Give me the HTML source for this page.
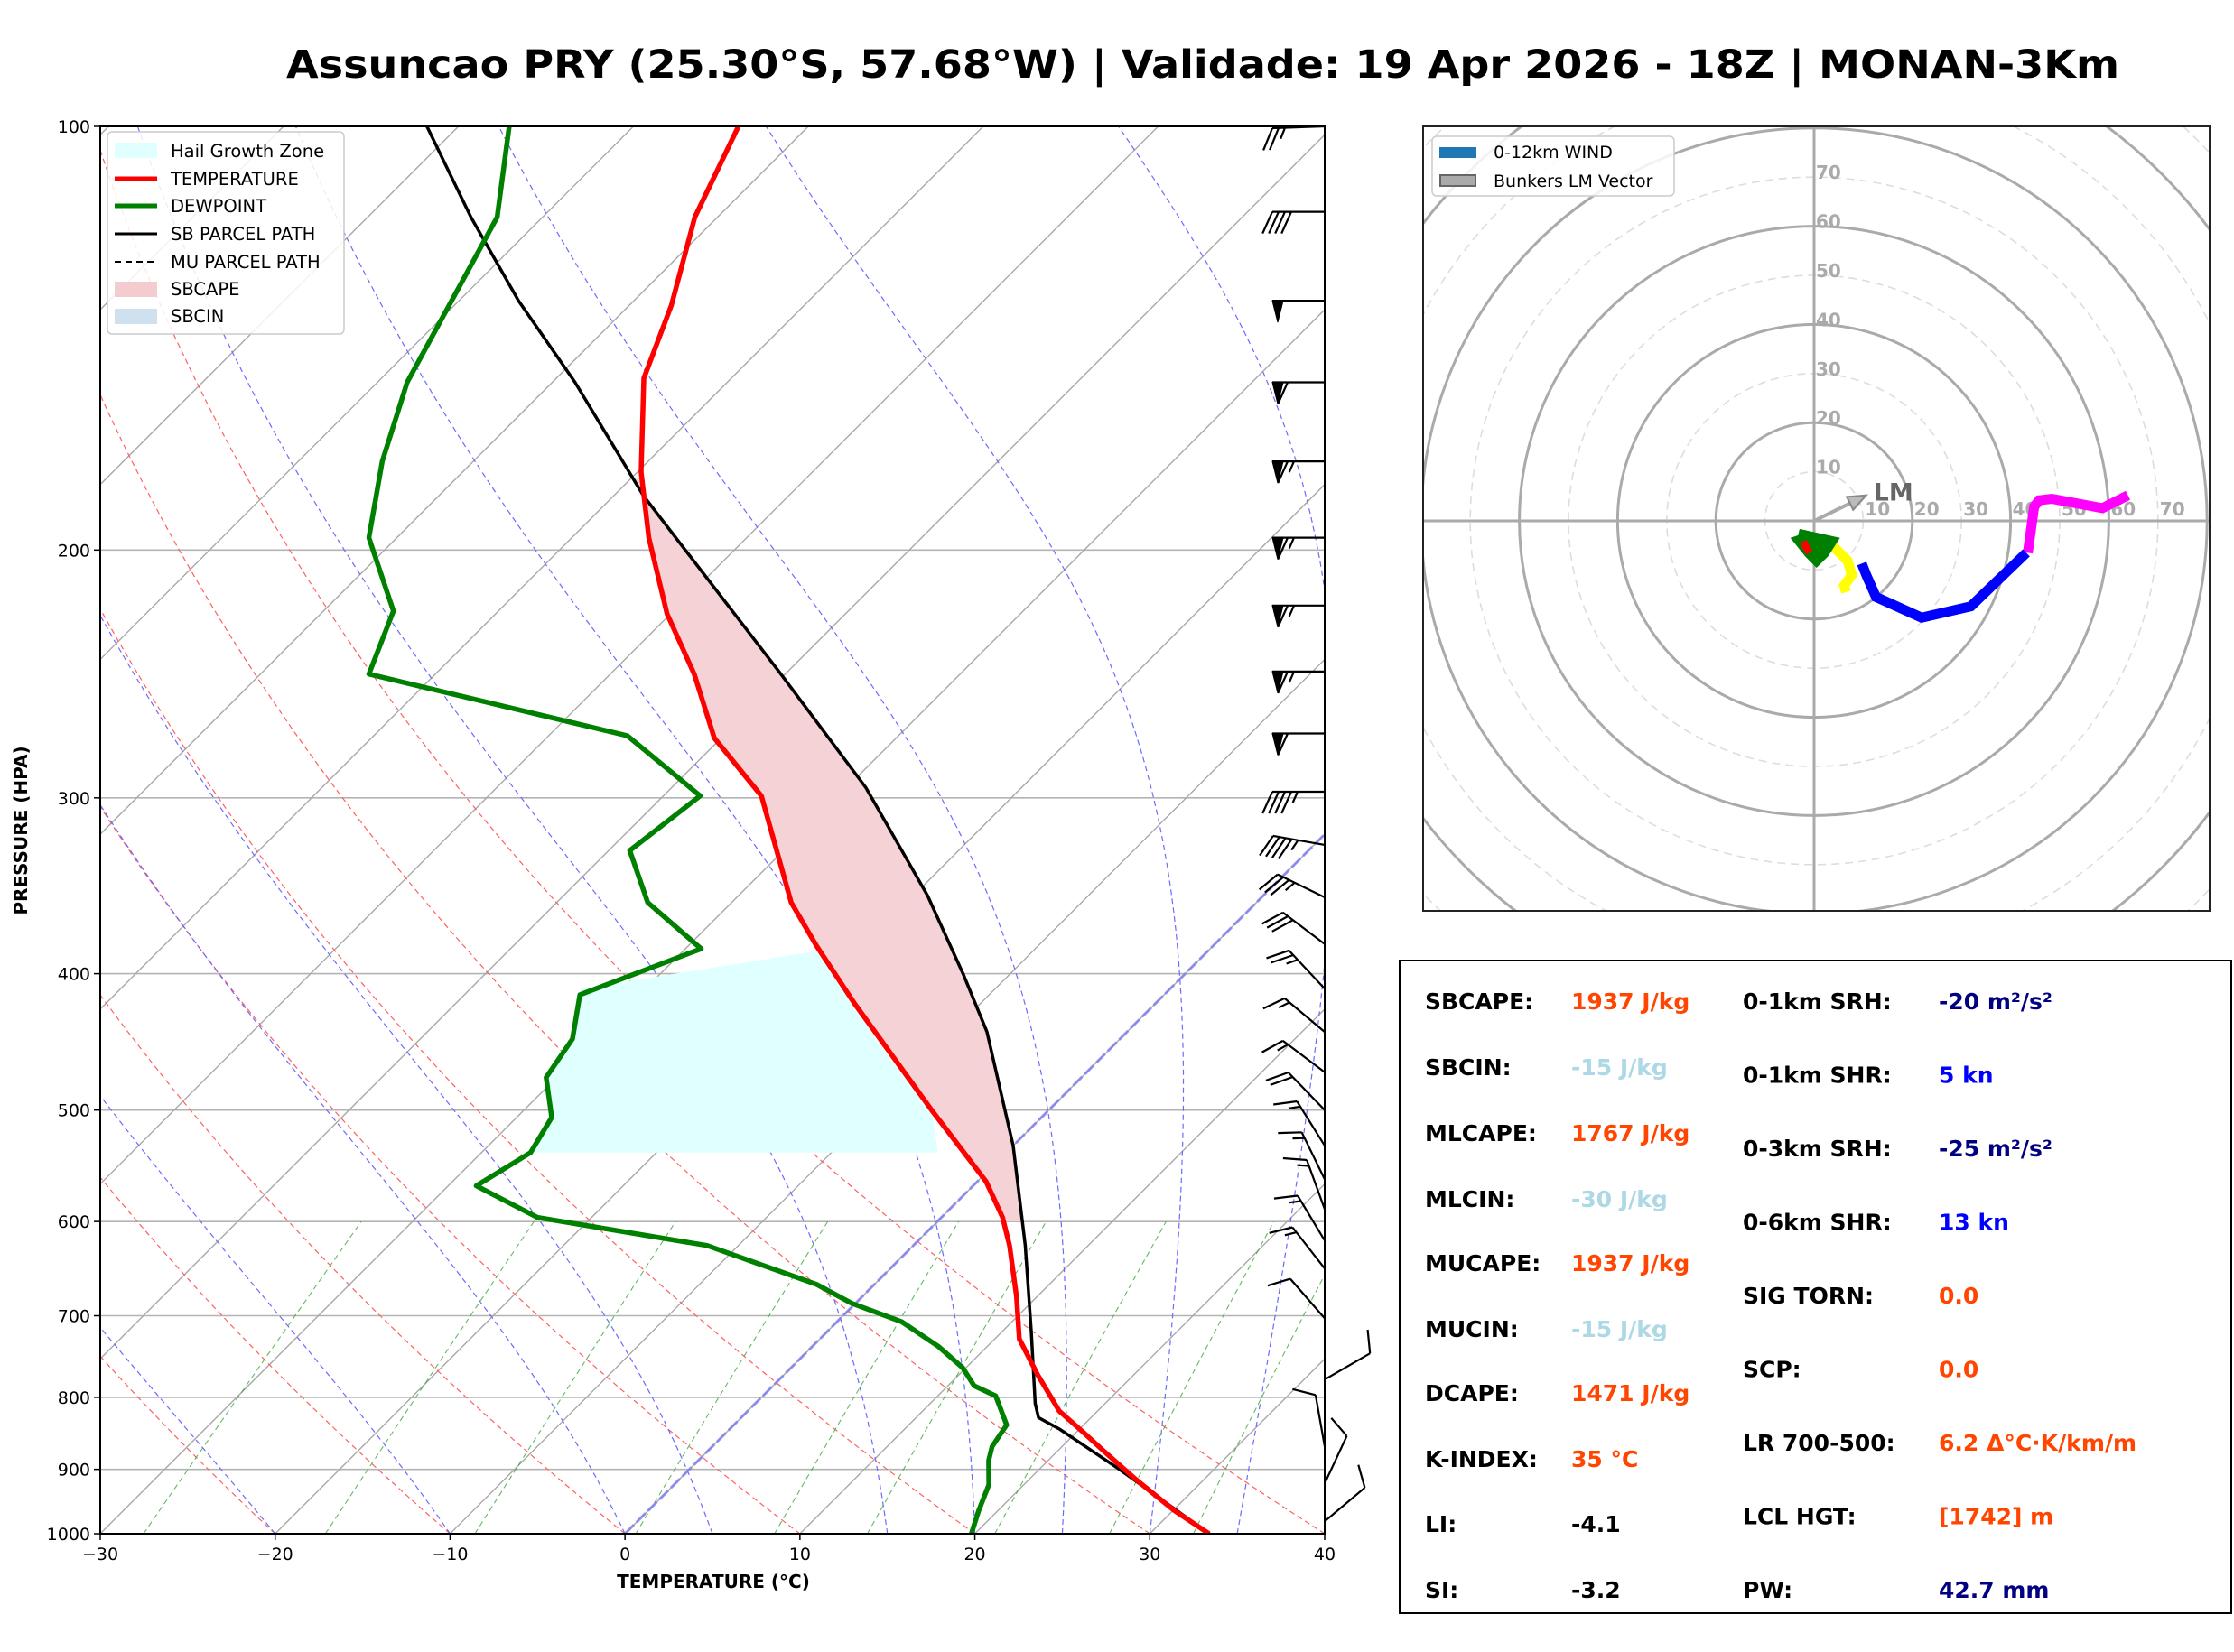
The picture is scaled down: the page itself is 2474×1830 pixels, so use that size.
<!DOCTYPE html>
<html><head><meta charset="utf-8">
<style>
html,body{margin:0;padding:0;background:#fff;}
svg{display:block;font-family:"DejaVu Sans","Liberation Sans",sans-serif;}
</style></head>
<body>
<svg id="fig" width="2474" height="1830" viewBox="0 0 2474 1830" xmlns="http://www.w3.org/2000/svg">
<defs>
<clipPath id="skewClip"><rect x="111" y="140" width="1356" height="1559"/></clipPath>
<clipPath id="hodoClip"><rect x="1576" y="140" width="871" height="869"/></clipPath>
</defs>
<rect width="2474" height="1830" fill="#fff"/>
<text x="1332" y="86" text-anchor="middle" font-size="43" font-weight="bold" textLength="2030" lengthAdjust="spacingAndGlyphs">Assuncao PRY (25.30°S, 57.68°W) | Validade: 19 Apr 2026 - 18Z | MONAN-3Km</text>
<g id="skew">
  <g id="skewBg" clip-path="url(#skewClip)"></g>
  <g id="skewData" clip-path="url(#skewClip)"></g>
  <rect x="111" y="140" width="1356" height="1559" fill="none" stroke="#000" stroke-width="2"/>
  <g id="skewAxes"></g>
  <g id="barbs"></g>
  <text x="790" y="1759" text-anchor="middle" font-size="20" font-weight="bold">TEMPERATURE (°C)</text>
  <text transform="translate(30,920) rotate(-90)" text-anchor="middle" font-size="20" font-weight="bold">PRESSURE (HPA)</text>
  <g>
    <rect x="119" y="146" width="262" height="224" rx="5" fill="#fff" fill-opacity="0.85" stroke="#ccc" stroke-width="1.5"/>
    <rect x="127" y="158" width="47" height="17" fill="#e0ffff"/>
    <text x="189" y="174" font-size="19.5">Hail Growth Zone</text>
    <line x1="127" y1="198" x2="174" y2="198" stroke="#f00" stroke-width="5"/>
    <text x="189" y="205" font-size="19.5">TEMPERATURE</text>
    <line x1="127" y1="228" x2="174" y2="228" stroke="#008000" stroke-width="5"/>
    <text x="189" y="235" font-size="19.5">DEWPOINT</text>
    <line x1="127" y1="259" x2="174" y2="259" stroke="#000" stroke-width="3"/>
    <text x="189" y="266" font-size="19.5">SB PARCEL PATH</text>
    <line x1="127" y1="290" x2="174" y2="290" stroke="#000" stroke-width="2" stroke-dasharray="7,5"/>
    <text x="189" y="297" font-size="19.5">MU PARCEL PATH</text>
    <rect x="127" y="312" width="47" height="17" fill="#f4cccf"/>
    <text x="189" y="327" font-size="19.5">SBCAPE</text>
    <rect x="127" y="342" width="47" height="17" fill="#cfe0ee"/>
    <text x="189" y="357" font-size="19.5">SBCIN</text>
  </g>
</g>
<g id="hodo">
  <g id="hodoBg" clip-path="url(#hodoClip)"></g>
  <g id="hodoData" clip-path="url(#hodoClip)"></g>
  <rect x="1576" y="140" width="871" height="869" fill="none" stroke="#222" stroke-width="2"/>
  <g>
    <rect x="1586" y="151" width="268" height="66" rx="5" fill="#fff" fill-opacity="0.85" stroke="#ccc" stroke-width="1.5"/>
    <rect x="1594" y="163" width="41" height="12" fill="#1f77b4"/>
    <text x="1654" y="175" font-size="19">0-12km WIND</text>
    <rect x="1595" y="194" width="39" height="12" fill="#aaa" stroke="#666" stroke-width="2"/>
    <text x="1654" y="207" font-size="19">Bunkers LM Vector</text>
  </g>
</g>
<g id="stats">
  <rect x="1550" y="1064" width="921" height="723" fill="#fff" stroke="#000" stroke-width="2"/>
</g>
</svg>
<script>
// ---------------- DATA ----------------
const tempP = [1000,963,915,873,847,818,771,727,678,624,596,562,500,420,382,356,299,272,245,222,196,176,151,134,116,100];
const tempT = [33.4,30.1,26.1,22.6,20.4,17.8,14.5,11.4,8.8,5.5,3.5,0.5,-6.7,-17.2,-22.7,-26.6,-34.4,-40.4,-45.2,-50.2,-55.6,-59.8,-65.0,-67.6,-71.3,-74.0];
const dewP = [1000,963,923,887,867,837,818,798,785,762,736,707,686,665,624,596,566,536,506,474,445,414,384,356,327,299,271,245,221,196,173,152,116,100];
const dewT = [19.8,18.9,18.0,16.6,16.0,15.6,14.5,13.3,11.5,9.8,7.2,3.7,-0.2,-3.3,-11.8,-23.1,-28.4,-27.2,-28.0,-30.6,-31.3,-33.4,-29.1,-34.8,-38.8,-37.9,-45.5,-63.8,-66.0,-71.6,-75.2,-78.3,-82.6,-87.1];
const parcelP = [1000,898,843,827,808,719,624,530,440,400,352,295,244,183,152,133,116,100];
const parcelT = [33.4,24.4,18.9,17.0,16.0,11.7,6.4,0.0,-8.0,-12.7,-19.2,-28.9,-40.5,-58.3,-68.7,-76.6,-84.1,-91.8];
const hgzP = [536,536,500,460,420,385,410,445,474,506,536];
const hgzT = [-27.4,-3.9,-6.7,-12.0,-17.2,-22.1,-33.7,-31.3,-30.6,-28.0,-27.2];
const capeTop = 178, capeBottom = 600;
const pressureTicks = [100,200,300,400,500,600,700,800,900,1000];
const tempTicks = [-30,-20,-10,0,10,20,30,40];
const dryAdiabatT0 = [-50,-40,-30,-20,-10,0,10,20,30,40];
const moistAdiabatT0 = [-30,-20,-10,0,5,15,20,25,30,35];
const mixingRatios = [0.0004,0.001,0.002,0.004,0.007,0.01,0.016,0.024,0.032];
const barbP = [100,115,133,152,173,196,219,244,270,297,324,353,381,410,440,470,500,530,560,588,619,648,703,777,867,921,980];
const barbSpd = [25,40,50,60,65,65,65,65,60,45,45,35,30,25,15,15,20,15,15,15,15,15,10,10,10,10,10];
const barbDir = [268,270,270,270,270,270,270,270,270,270,280,296,307,317,310,307,316,328,334,340,329,322,319,60,350,25,50];
// hodograph (knots)
const hodoRedU = [-2.2,-1.0], hodoRedV = [-4.2,-6.5];
const hodoGreenU = [-3.2,3.5,2.0,0.5,-1.0,-3.0,-1.5,1.5], hodoGreenV = [-2.7,-4.2,-6.5,-8.0,-6.5,-4.0,-3.5,-6.0];
const hodoYellowU = [3.9,6.8,7.7,6.1,6.5], hodoYellowV = [-5.2,-8.1,-11.0,-13.2,-14.5];
const hodoBlueU = [9.7,10.6,12.6,21.9,31.9,43.2], hodoBlueV = [-8.7,-11.0,-15.5,-19.7,-17.4,-6.5];
const hodoMagU = [43.5,44.8,45.8,48.4,58.7,63.9], hodoMagV = [-6.5,2.9,4.2,4.5,2.6,5.2];
const lmU = 10.6, lmV = 5.2;
const hodoRingLabels = [10,20,30,40,50,60,70];
// stats
const statLeftLabels = ["SBCAPE:","SBCIN:","MLCAPE:","MLCIN:","MUCAPE:","MUCIN:","DCAPE:","K-INDEX:","LI:","SI:"];
const statLeftValues = ["1937 J/kg","-15 J/kg","1767 J/kg","-30 J/kg","1937 J/kg","-15 J/kg","1471 J/kg","35 °C","-4.1","-3.2"];
const statLeftColors = ["#ff4500","#add8e6","#ff4500","#add8e6","#ff4500","#add8e6","#ff4500","#ff4500","#000","#000"];
const statRightLabels = ["0-1km SRH:","0-1km SHR:","0-3km SRH:","0-6km SHR:","SIG TORN:","SCP:","LR 700-500:","LCL HGT:","PW:"];
const statRightValues = ["-20 m²/s²","5 kn","-25 m²/s²","13 kn","0.0","0.0","6.2 Δ°C·K/km/m","[1742] m","42.7 mm"];
const statRightColors = ["#000080","#0000ff","#000080","#0000ff","#ff4500","#ff4500","#ff4500","#ff4500","#000080"];

// ---------------- AXES ----------------
const NS = "http://www.w3.org/2000/svg";
const X0=111, X1=1467, YT=140, YB=1699;
const degPx = (X1-X0)/70;
function yP(p){ return YB - Math.log10(1000/p)*(YB-YT); }
function xT(T,p){ return X0 + (T+30)*degPx + (YB - yP(p)); }
function mk(tag, attrs, parent){ const e=document.createElementNS(NS,tag); for(const k in attrs) e.setAttribute(k,attrs[k]); parent.appendChild(e); return e; }
function polyPts(ps, ts){ return ps.map((p,i)=>xT(ts[i],p).toFixed(1)+","+yP(p).toFixed(1)).join(" "); }

const bg = document.getElementById('skewBg');
pressureTicks.forEach(p=>{
  const l=mk('line',{x1:X0,x2:X1,y1:yP(p),y2:yP(p),stroke:'#b3b3b3','stroke-width':1.6},bg);
  
  
});
for(let T=-110;T<=40;T+=10){
  const l=mk('line',{x1:xT(T,1000),y1:YB,x2:xT(T,100),y2:YT,stroke:'#a8a8a8','stroke-width':1.4},bg);
  
  
}
const plev=[]; for(let p=1000;p>=100;p-=10) plev.push(p);
dryAdiabatT0.forEach(t0=>{
  const th=t0+273.15;
  const pts=plev.map(p=>xT(th*Math.pow(p/1000,0.2857)-273.15,p).toFixed(1)+","+yP(p).toFixed(1)).join(" ");
  const l=mk('polyline',{points:pts,fill:'none',stroke:'#ff6060','stroke-width':1.2,'stroke-dasharray':'6,4'},bg);
  
  
});
function dTdp(p,T){ const es=6.112*Math.exp(17.67*(T-273.15)/(T-29.65)); const rs=0.622*es/(p-es);
  const Rd=287,Cp=1005,Lv=2.501e6; return (Rd*T+Lv*rs)/(p*(Cp+Lv*Lv*rs*0.622/(Rd*T*T))); }
moistAdiabatT0.forEach(t0=>{
  let T=t0+273.15, p=1000; const pts=[];
  while(p>=100){ pts.push(xT(T-273.15,p).toFixed(1)+","+yP(p).toFixed(1));
    const dp=-5; const k1=dTdp(p,T); const k2=dTdp(p+dp/2,T+k1*dp/2); T+=k2*dp; p+=dp; }
  const l=mk('polyline',{points:pts.join(" "),fill:'none',stroke:'#6b6bff','stroke-width':1.2,'stroke-dasharray':'6,4'},bg);
  
  
});
mixingRatios.forEach(w=>{
  const pts=[]; for(let p=1000;p>=600;p-=20){ const e=p*w/(0.622+w); const a=Math.log(e/6.112); const td=243.5*a/(17.67-a); pts.push(xT(td,p).toFixed(1)+","+yP(p).toFixed(1)); }
  const l=mk('polyline',{points:pts.join(" "),fill:'none',stroke:'#3aa83a','stroke-width':1.1,'stroke-dasharray':'6,4','stroke-opacity':0.8},bg);
  
  
});
{ const l=mk('line',{x1:xT(0,1000),y1:YB,x2:xT(0,100),y2:YT,stroke:'#8080ee','stroke-width':3,'stroke-dasharray':'14,4','stroke-opacity':0.8},bg);
  
   }

const dl = document.getElementById('skewData');
{ const e=mk('polygon',{points:polyPts(hgzP,hgzT),fill:'#e0ffff'},dl);
  
   }
function interp(ps,ts,p){ const lp=Math.log(p); for(let i=0;i<ps.length-1;i++){ const a=Math.log(ps[i]),b=Math.log(ps[i+1]); if(lp<=a&&lp>=b){ return ts[i]+(ts[i+1]-ts[i])*(lp-a)/(b-a);} } return ts[ts.length-1]; }
{ const up=[],dn=[]; for(let i=0;i<=80;i++){ const p=capeBottom*Math.pow(capeTop/capeBottom,i/80);
    up.push(xT(interp(parcelP,parcelT,p),p).toFixed(1)+","+yP(p).toFixed(1));
    dn.unshift(xT(interp(tempP,tempT,p),p).toFixed(1)+","+yP(p).toFixed(1)); }
  const e=mk('polygon',{points:up.concat(dn).join(" "),fill:'#f4d2d5'},dl);
  
   }
{ const e=mk('polyline',{points:polyPts(parcelP,parcelT),fill:'none',stroke:'#000','stroke-width':3.5,'stroke-linejoin':'round'},dl);
  
   }
{ const e=mk('polyline',{points:polyPts(dewP,dewT),fill:'none',stroke:'#008000','stroke-width':5.5,'stroke-linejoin':'round'},dl);
  
   }
{ const e=mk('polyline',{points:polyPts(tempP,tempT),fill:'none',stroke:'#ff0000','stroke-width':5.5,'stroke-linejoin':'round'},dl);
  
   }

const ax=document.getElementById('skewAxes');
pressureTicks.forEach(p=>{
  mk('line',{x1:X0-7,x2:X0,y1:yP(p),y2:yP(p),stroke:'#000','stroke-width':1.5},ax);
  const t=mk('text',{x:X0-11,y:yP(p)+7,'text-anchor':'end','font-size':19},ax); t.textContent=p;
  
  
});
tempTicks.forEach(T=>{
  const x=X0+(T+30)*degPx;
  mk('line',{x1:x,x2:x,y1:YB,y2:YB+7,stroke:'#000','stroke-width':1.5},ax);
  const t=mk('text',{x:x,y:YB+29,'text-anchor':'middle','font-size':19},ax); t.textContent=(T<0?'\u2212'+(-T):T);
  
  
});

const bgrp=document.getElementById('barbs');
barbP.forEach((p,i)=>{
  const x0=X1, y0=yP(p), th=barbDir[i]*Math.PI/180;
  const dx=Math.sin(th), dy=-Math.cos(th);
  const px=dy, py=-dx;
  const L=58, bl=24;
  let tipx=x0+dx*L, tipy=y0+dy*L;
  let d='M'+x0+','+y0.toFixed(1)+' L'+tipx.toFixed(1)+','+tipy.toFixed(1);
  let s=barbSpd[i], pos=0; let fills='';
  const nf=Math.floor(s/50); s-=nf*50; const nb=Math.floor(s/10); s-=nb*10; const nh=s>=5?1:0;
  for(let k=0;k<nf;k++){ const ax1=tipx-dx*pos, ay1=tipy-dy*pos, w=12;
    const bx=tipx-dx*(pos+w), by=tipy-dy*(pos+w);
    const cx=tipx-dx*(pos+w/2)+px*bl, cy=tipy-dy*(pos+w/2)+py*bl;
    fills+='M'+ax1.toFixed(1)+','+ay1.toFixed(1)+' L'+cx.toFixed(1)+','+cy.toFixed(1)+' L'+bx.toFixed(1)+','+by.toFixed(1)+'Z ';
    pos+=w+5; }
  for(let k=0;k<nb;k++){ const sx=tipx-dx*pos, sy=tipy-dy*pos;
    d+=' M'+sx.toFixed(1)+','+sy.toFixed(1)+' L'+(sx+px*bl+dx*bl*0.45).toFixed(1)+','+(sy+py*bl+dy*bl*0.45).toFixed(1); pos+=7; }
  if(nh){ if(pos===0) pos=7; const sx=tipx-dx*pos, sy=tipy-dy*pos;
    d+=' M'+sx.toFixed(1)+','+sy.toFixed(1)+' L'+(sx+px*bl*0.5+dx*bl*0.22).toFixed(1)+','+(sy+py*bl*0.5+dy*bl*0.22).toFixed(1); }
  const g=mk('g',{},bgrp);
  
  
  mk('path',{d:d,fill:'none',stroke:'#000','stroke-width':2.2},g);
  if(fills) mk('path',{d:fills,fill:'#000',stroke:'#000','stroke-width':1},g);
});

// ---------------- HODOGRAPH ----------------
const HX=2009, HY=577, KT=5.44;
function hx(u){ return HX+u*KT; } function hy(v){ return HY-v*KT; }
const hb=document.getElementById('hodoBg');
for(let r=10;r<=120;r+=10){
  const solid=(r%20===0);
  const c=mk('circle',{cx:HX,cy:HY,r:r*KT,fill:'none',stroke:solid?'#aaa':'#ddd','stroke-width':solid?3:1.6,'stroke-dasharray':solid?'none':'9,6'},hb);
  
  
}
mk('line',{x1:1576,x2:2447,y1:HY,y2:HY,stroke:'#aaa','stroke-width':3},hb);
mk('line',{x1:HX,x2:HX,y1:140,y2:1009,stroke:'#aaa','stroke-width':3},hb);
hodoRingLabels.forEach(r=>{
  const t1=mk('text',{x:hx(r)+2,y:HY-6,'font-size':20,'font-weight':'bold',fill:'#aaa'},hb); t1.textContent=r;
  
  
  const t2=mk('text',{x:HX+2,y:hy(r)+2,'font-size':20,'font-weight':'bold',fill:'#aaa'},hb); t2.textContent=r;
  
  
});
const hd=document.getElementById('hodoData');
function hline(us,vs,col,name,w){
  const e=mk('polyline',{points:us.map((u,i)=>hx(u).toFixed(1)+","+hy(vs[i]).toFixed(1)).join(" "),fill:'none',stroke:col,'stroke-width':w,'stroke-linejoin':'miter'},hd);
  
  
}
hline(hodoMagU,hodoMagV,'#ff00ff','hodo-segment-9-12km',11);
hline(hodoBlueU,hodoBlueV,'#0000ff','hodo-segment-6-9km',11);
hline(hodoYellowU,hodoYellowV,'#ffff00','hodo-segment-3-6km',11);
hline(hodoGreenU,hodoGreenV,'#008000','hodo-segment-1-3km',12);
hline(hodoRedU,hodoRedV,'#ff0000','hodo-segment-0-1km',8);
{ const g=mk('g',{},hd);
  
  
  const ex=hx(lmU), ey=hy(lmV), ang=Math.atan2(ey-HY,ex-HX);
  mk('line',{x1:HX,y1:HY,x2:ex-Math.cos(ang)*14,y2:ey-Math.sin(ang)*14,stroke:'#aaa','stroke-width':4},g);
  const bx=ex-Math.cos(ang)*20, by=ey-Math.sin(ang)*20, pxx=-Math.sin(ang)*8, pyy=Math.cos(ang)*8;
  mk('polygon',{points:ex+','+ey+' '+(bx+pxx)+','+(by+pyy)+' '+(bx-pxx)+','+(by-pyy),fill:'#bbb',stroke:'#888','stroke-width':2},g);
  const t=mk('text',{x:ex+8,y:ey+6,'font-size':27,'font-weight':'bold',fill:'#666'},g); t.textContent='LM'; }

// ---------------- STATS ----------------
const st=document.getElementById('stats');
const leftY=[1109,1182,1255,1328,1399,1472,1543,1616,1688,1761];
statLeftLabels.forEach((lab,i)=>{
  const a=mk('text',{x:1578,y:leftY[i]+9,'font-size':25,'font-weight':'bold',fill:'#000'},st); a.textContent=lab;
  
  
  const b=mk('text',{x:1740,y:leftY[i]+9,'font-size':25,'font-weight':'bold',fill:statLeftColors[i]},st); b.textContent=statLeftValues[i];
  
  
});
statRightLabels.forEach((lab,i)=>{
  const y=1109+i*81.5;
  const a=mk('text',{x:1930,y:y+9,'font-size':25,'font-weight':'bold',fill:'#000'},st); a.textContent=lab;
  
  
  const b=mk('text',{x:2147,y:y+9,'font-size':25,'font-weight':'bold',fill:statRightColors[i]},st); b.textContent=statRightValues[i];
  
  
});
</script>
</body></html>
